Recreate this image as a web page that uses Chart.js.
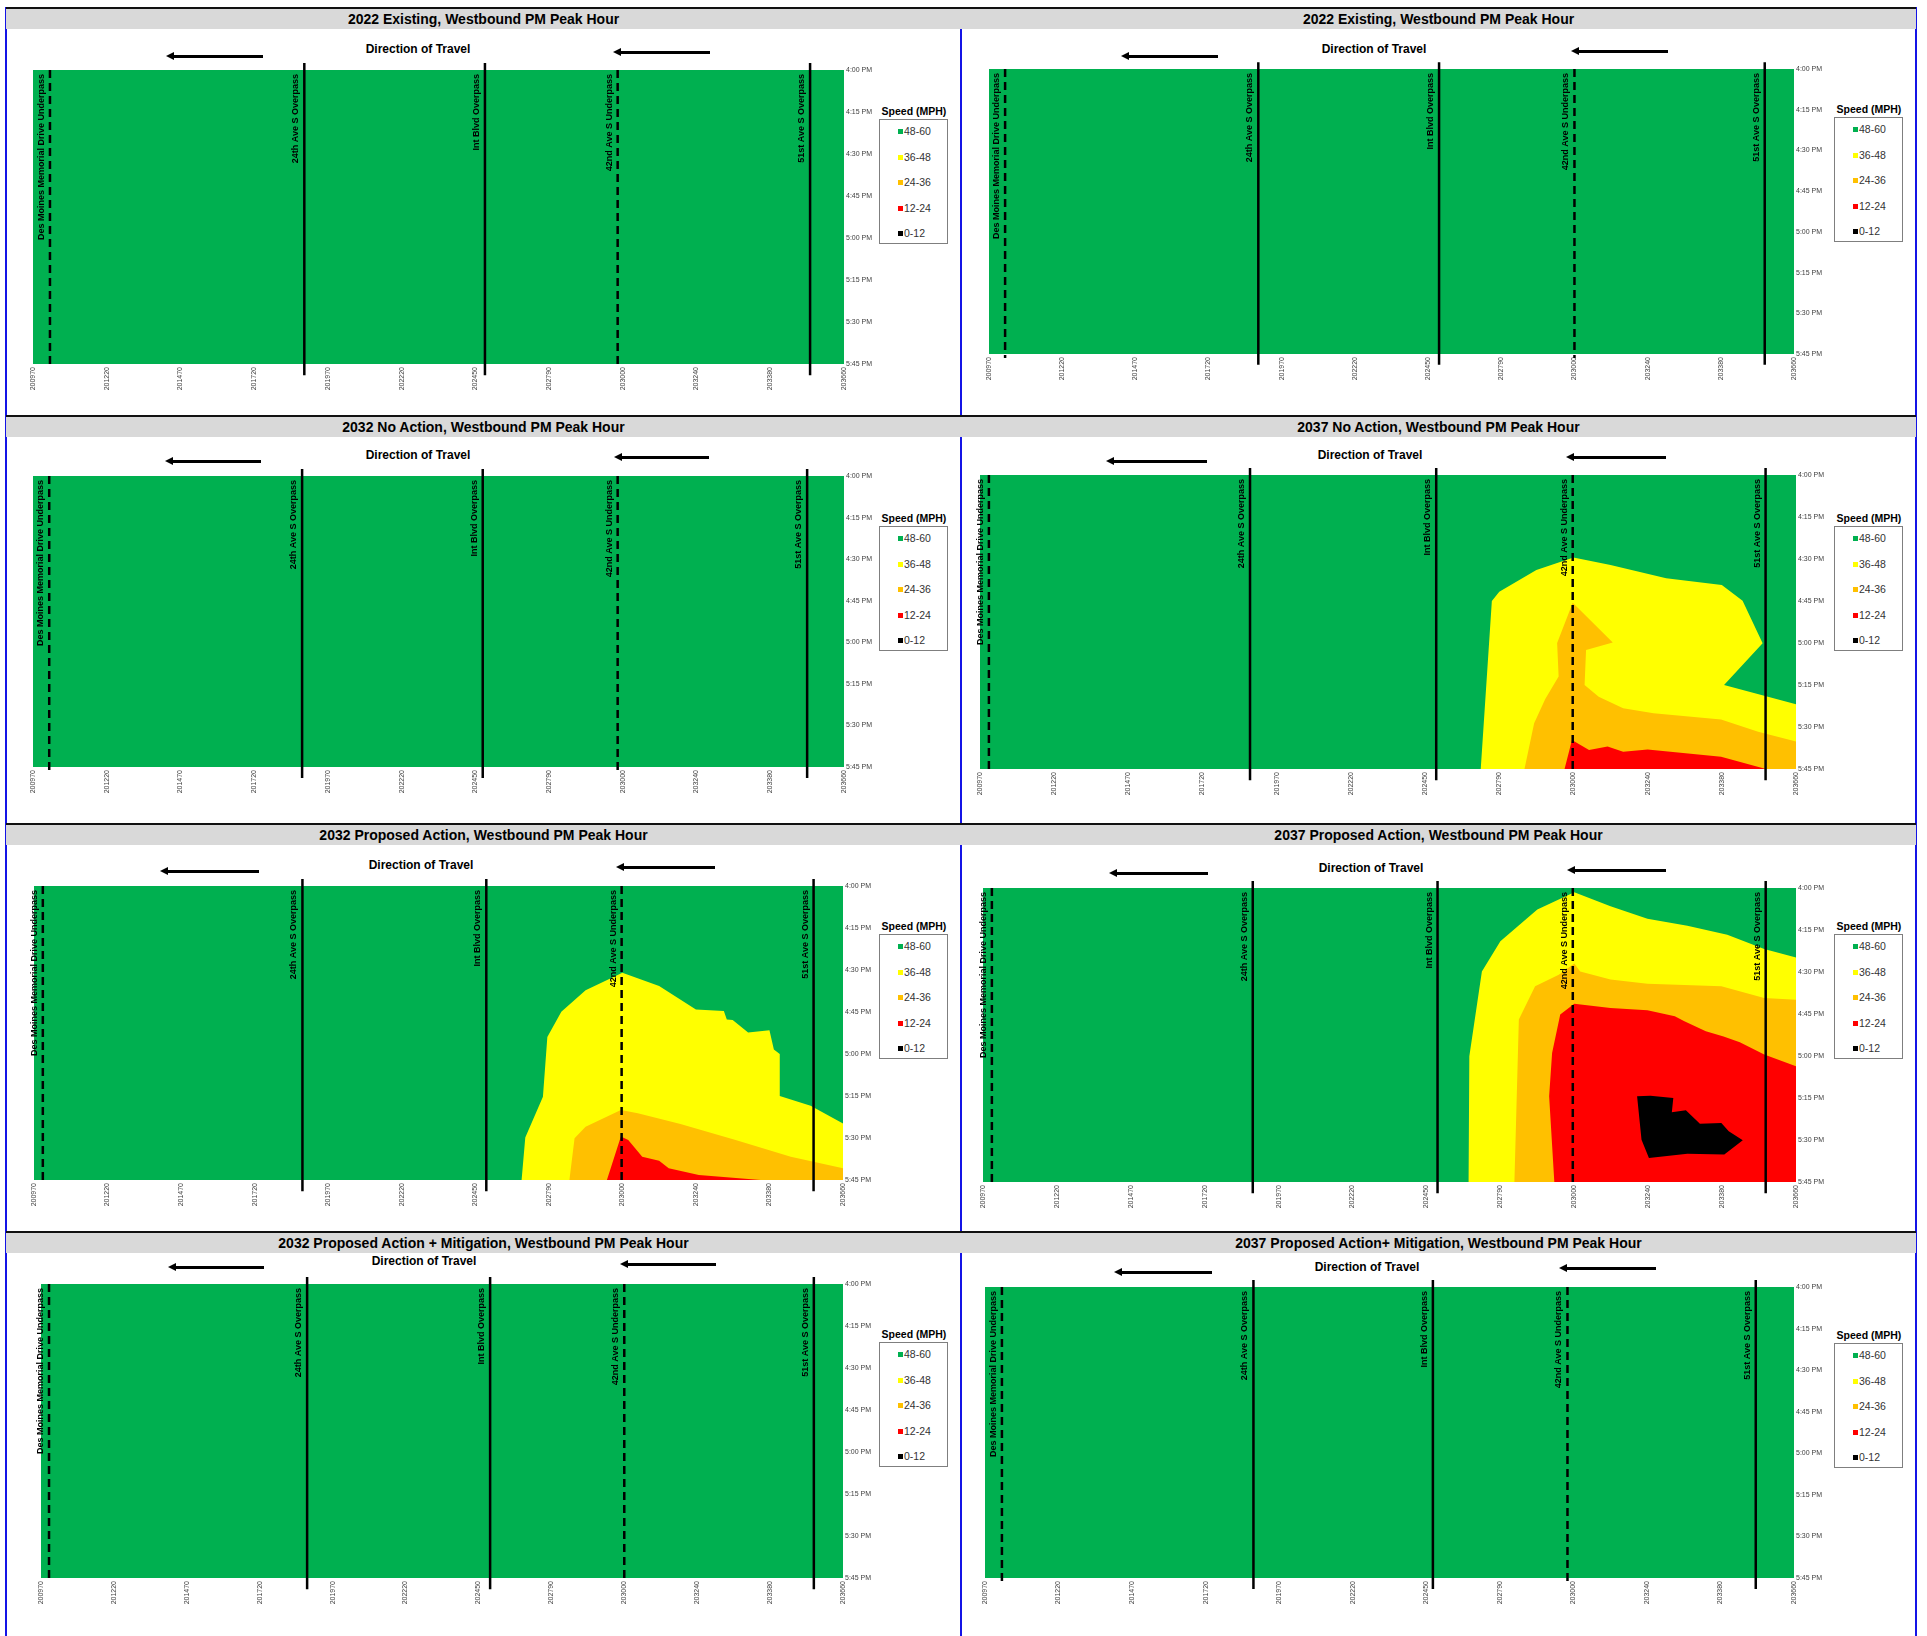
<!DOCTYPE html>
<html>
<head>
<meta charset="utf-8">
<script src="https://cdn.jsdelivr.net/npm/chart.js@4.4.1/dist/chart.umd.min.js"></script>
<style>
  body { margin: 0; width: 1927px; height: 1636px; position: relative; overflow: hidden; background: #fff;
         font-family: "Liberation Sans", Arial, sans-serif; }
  .vline { position: absolute; width: 2px; background: #1414e6; top: 7px; bottom: 0; }
  .titlebar { position: absolute; height: 20px; background: #d9d9d9; border-top: 2px solid #111;
              font-weight: bold; font-size: 14px; line-height: 21px; text-align: center; color: #000; }
  .dir { position: absolute; font-weight: bold; font-size: 12px; transform: translate(-50%, -50%); white-space: nowrap; }
  .arrow { position: absolute; height: 3px; background: #000; }
  .arrow::before { content: ''; position: absolute; left: -7px; top: -3px;
                   border-right: 8px solid #000; border-top: 4.5px solid transparent; border-bottom: 4.5px solid transparent; }
  .lgtitle { position: absolute; width: 90px; text-align: center; font-weight: bold; font-size: 10.5px; }
  .lgbox { position: absolute; width: 69px; height: 125px; border: 1px solid #7f7f7f; box-sizing: border-box; background: #fff; }
  .lgitem { position: absolute; left: 18px; font-size: 10.5px; color: #333; line-height: 11px; }
  .lgitem i { display: inline-block; width: 5px; height: 5px; margin-right: 1px; vertical-align: 1px; }
  canvas { position: absolute; }
</style>
</head>
<body>
<script>
// x axis stations (evenly spaced categories) and time ticks
const xLabels = ["200970", "201220", "201470", "201720", "201970", "202220",
                 "202450", "202790", "203000", "203240", "203380", "203660"];
const timeLabels = ["4:00 PM", "4:15 PM", "4:30 PM", "4:45 PM", "5:00 PM", "5:15 PM", "5:30 PM", "5:45 PM"];

const bands = ["48-60", "36-48", "24-36", "12-24", "0-12"];
const bandColors = ["#00b050", "#ffff00", "#ffc000", "#ff0000", "#000000"];

const titles = [
  "2022 Existing, Westbound PM Peak Hour",
  "2022 Existing, Westbound PM Peak Hour",
  "2032 No Action, Westbound PM Peak Hour",
  "2037 No Action, Westbound PM Peak Hour",
  "2032 Proposed Action, Westbound PM Peak Hour",
  "2037 Proposed Action, Westbound PM Peak Hour",
  "2032 Proposed Action + Mitigation, Westbound PM Peak Hour",
  "2037 Proposed Action+ Mitigation, Westbound PM Peak Hour"
];

const markerNames = ["Des Moines Memorial Drive Underpass", "24th Ave S Overpass", "Int Blvd Overpass",
                     "42nd Ave S Underpass", "51st Ave S Overpass"];
const markerDashed = [true, false, false, true, false];
// marker positions per panel, in station-index units
const markerPos = [
  [0.23, 3.68, 6.13, 7.93, 10.54],
  [0.22, 3.68, 6.15, 8.0, 10.6],
  [0.22, 3.65, 6.1, 7.93, 10.5],
  [0.12, 3.64, 6.15, 7.99, 10.59],
  [0.12, 3.65, 6.15, 7.99, 10.6],
  [0.12, 3.65, 6.15, 7.98, 10.59],
  [0.11, 3.65, 6.16, 8.0, 10.6],
  [0.23, 3.65, 6.09, 7.92, 10.48]
];

// contour polygons: [station index, minutes after 4:00 PM]
const fullArea = [[0, 0], [11, 0], [11, 105], [0, 105]];

const yellowNoAction2037 = [[6.75, 105], [6.9, 45], [7.0, 41.7], [7.5, 33.9], [8.0, 29.5], [8.5, 32.1], [9.25, 36.9],
  [10.0, 39.3], [10.28, 44.9], [10.55, 60.1], [10.03, 75], [11, 81.9], [11, 105]];
const orangeNoAction2037 = [[7.34, 105], [7.47, 88.7], [7.62, 80], [7.8, 72], [7.78, 60], [7.99, 45.6], [8.53, 59.8],
  [8.17, 62.5], [8.15, 75], [8.34, 79.2], [8.67, 83.3], [9.08, 85.1], [9.99, 87.3], [10.49, 91.7], [11, 95.2], [11, 105]];
const redNoAction2037 = [[7.88, 105], [7.98, 94.6], [8.21, 98.2], [8.46, 97], [8.67, 98.8], [9.0, 98], [9.99, 100.6],
  [10.57, 104.8], [10.6, 105]];

const yellowProposed2032 = [[6.63, 105], [6.68, 89.8], [6.92, 75.3], [6.98, 53.9], [7.17, 44.9], [7.5, 37.2], [8.0, 31],
  [8.5, 35.7], [9.0, 44.1], [9.38, 44.6], [9.42, 47.7], [9.5, 47.9], [9.71, 52.3], [10.0, 51.5], [10.06, 58.4],
  [10.14, 60], [10.14, 75], [10.56, 78.5], [11, 84.8], [11, 105]];
const orangeProposed2032 = [[7.28, 105], [7.35, 90.1], [7.5, 86], [7.98, 80], [8.21, 81.2], [8.79, 85], [9.54, 90.7],
  [10.29, 96.7], [11, 100.8], [11, 105]];
const redProposed2032 = [[7.79, 105], [7.98, 89.5], [8.08, 90.7], [8.27, 96.7], [8.5, 98.1], [8.63, 100.8],
  [9.04, 103.2], [9.88, 105]];

const yellowProposed2037 = [[6.57, 105], [6.58, 60.1], [6.75, 29.8], [7.0, 19], [7.5, 7.7], [8.0, 1.5], [8.49, 6.5],
  [8.99, 11], [9.53, 13.5], [10.07, 16.7], [10.57, 21.8], [11, 24.8], [11, 105]];
const orangeProposed2037 = [[7.19, 105], [7.25, 47], [7.47, 35.1], [7.79, 31], [8.0, 27], [8.08, 29.8], [8.49, 32.7],
  [8.99, 34.2], [9.99, 35.1], [10.57, 39.3], [11, 39.9], [11, 105]];
const redProposed2037 = [[7.73, 105], [7.66, 74.4], [7.7, 58.9], [7.81, 45.2], [8.0, 41.3], [8.49, 42.9], [8.99, 43.7],
  [9.36, 45.8], [9.49, 47.6], [9.78, 51.2], [10.02, 53], [10.24, 55.1], [10.57, 59.5], [11, 63.7], [11, 105]];
const blackProposed2037 = [[8.85, 74.4], [9.03, 74.2], [9.34, 75], [9.32, 80.1], [9.51, 79.4], [9.70, 84.2],
  [9.99, 83.9], [10.09, 86.9], [10.28, 90.1], [10.03, 95.2], [9.53, 94.9], [9.01, 96.4], [8.91, 89.9]];

// [48-60, 36-48, 24-36, 12-24, 0-12] per panel
const panelBands = [
  [fullArea, [], [], [], []],
  [fullArea, [], [], [], []],
  [fullArea, [], [], [], []],
  [fullArea, yellowNoAction2037, orangeNoAction2037, redNoAction2037, []],
  [fullArea, yellowProposed2032, orangeProposed2032, redProposed2032, []],
  [fullArea, yellowProposed2037, orangeProposed2037, redProposed2037, blackProposed2037],
  [fullArea, [], [], [], []],
  [fullArea, [], [], [], []]
];

// page layout (pixels)
const rowTops = [7, 415, 823, 1231];
const colX = [[6, 961], [961, 1916]];
const layout = [
  {plot: [33, 70, 844, 364],     dir: [418, 49],    arrows: [[173, 263, 56], [620, 710, 52]],     lg: 119},
  {plot: [989, 69, 1794, 354],   dir: [1374, 49],   arrows: [[1128, 1218, 56], [1578, 1668, 51]], lg: 117},
  {plot: [33, 476, 844, 767],    dir: [418, 455],   arrows: [[172, 261, 461], [621, 709, 457]],   lg: 526},
  {plot: [980, 475, 1796, 769],  dir: [1370, 455],  arrows: [[1113, 1207, 461], [1573, 1666, 457]], lg: 526},
  {plot: [34, 886, 843, 1180],   dir: [421, 865],   arrows: [[167, 259, 871], [623, 715, 867]],   lg: 934},
  {plot: [983, 888, 1796, 1182], dir: [1371, 868],  arrows: [[1116, 1208, 873], [1574, 1666, 870]], lg: 934},
  {plot: [41, 1284, 843, 1578],  dir: [424, 1261],  arrows: [[175, 264, 1267], [627, 716, 1264]], lg: 1342},
  {plot: [985, 1287, 1794, 1578], dir: [1367, 1267], arrows: [[1121, 1212, 1272], [1566, 1656, 1268]], lg: 1343}
];

Chart.defaults.font.family = '"Liberation Sans", Arial, sans-serif';
Chart.defaults.color = '#404040';

function el(cls, style, text) {
  const d = document.createElement('div');
  d.className = cls;
  Object.assign(d.style, style);
  if (text !== undefined) d.textContent = text;
  document.body.appendChild(d);
  return d;
}

// panel frame lines
[6, 961, 1916].forEach(x => el('vline', {left: (x - 1) + 'px'}));

const markerLabels = {
  id: 'markerLabels',
  afterDatasetsDraw(chart, args, opts) {
    const {ctx, chartArea, scales} = chart;
    ctx.save();
    ctx.font = 'bold 9px "Liberation Sans", Arial, sans-serif';
    ctx.fillStyle = '#000';
    ctx.textAlign = 'right';
    ctx.textBaseline = 'alphabetic';
    opts.positions.forEach((p, i) => {
      const x = scales.x.getPixelForValue(p) - 6;
      ctx.save();
      ctx.translate(x, chartArea.top + 4);
      ctx.rotate(-Math.PI / 2);
      ctx.fillText(markerNames[i], 0, 0);
      ctx.restore();
    });
    ctx.restore();
  }
};

titles.forEach((title, i) => {
  const col = i % 2, row = Math.floor(i / 2);
  const lay = layout[i];
  const [cx0, cx1] = colX[col];

  el('titlebar', {left: cx0 + 'px', top: rowTops[row] + 'px', width: (cx1 - cx0) + 'px'}, title);
  el('dir', {left: lay.dir[0] + 'px', top: lay.dir[1] + 'px'}, 'Direction of Travel');
  lay.arrows.forEach(a => el('arrow', {left: a[0] + 'px', top: (a[2] - 1) + 'px', width: (a[1] - a[0]) + 'px'}));

  // legend
  const lgLeft = col === 0 ? 879 : 1834;
  el('lgtitle', {left: (lgLeft - 10) + 'px', top: (lay.lg - 14) + 'px'}, 'Speed (MPH)');
  const box = el('lgbox', {left: lgLeft + 'px', top: lay.lg + 'px'});
  bands.forEach((b, k) => {
    const it = document.createElement('div');
    it.className = 'lgitem';
    it.style.top = (6 + k * 25.5) + 'px';
    it.innerHTML = '<i style="background:' + bandColors[k] + '"></i>' + b;
    box.appendChild(it);
  });

  // chart canvas: plot area is pinned to the measured rectangle
  const [L, T, R, B] = lay.plot;
  const padL = 20, padT = 14, axisW = 40, axisH = 36;
  const cv = document.createElement('canvas');
  cv.width = R - L + padL + axisW;
  cv.height = B - T + padT + axisH;
  cv.style.left = (L - padL) + 'px';
  cv.style.top = (T - padT) + 'px';
  document.body.appendChild(cv);

  const datasets = [];
  panelBands[i].forEach((poly, k) => {
    datasets.push({
      label: bands[k],
      data: poly.map(p => ({x: p[0], y: p[1]})),
      backgroundColor: bandColors[k],
      borderColor: bandColors[k],
      borderWidth: 0,
      pointRadius: 0,
      fill: 'shape',
      order: 10 - k
    });
  });
  markerPos[i].forEach((p, k) => {
    const dashed = markerDashed[k];
    datasets.push({
      label: markerNames[k],
      data: dashed ? [{x: p, y: 0}, {x: p, y: 106.5}] : [{x: p, y: -2.5}, {x: p, y: 109}],
      borderColor: '#000',
      borderWidth: 2.5,
      borderDash: dashed ? [8, 5] : [],
      pointRadius: 0,
      fill: false,
      clip: false,
      order: 0
    });
  });

  new Chart(cv, {
    type: 'line',
    data: {datasets},
    options: {
      responsive: false,
      animation: false,
      layout: {padding: {left: padL, top: padT, right: 0, bottom: 0}},
      plugins: {legend: {display: false}, tooltip: {enabled: false}, markerLabels: {positions: markerPos[i]}},
      scales: {
        x: {
          type: 'linear', min: 0, max: 11,
          grid: {display: false, drawTicks: false}, border: {display: false},
          afterFit: s => { s.height = axisH; },
          ticks: {
            stepSize: 1, maxTicksLimit: 20, autoSkip: false, minRotation: 90, maxRotation: 90, padding: 3,
            font: {size: 7}, color: '#404040',
            callback: v => xLabels[v]
          }
        },
        y: {
          type: 'linear', min: 0, max: 105, reverse: true, position: 'right',
          grid: {display: false, drawTicks: false}, border: {display: false},
          afterFit: s => { s.width = axisW; },
          ticks: {
            stepSize: 15, padding: 2, font: {size: 7}, color: '#404040',
            callback: v => timeLabels[v / 15]
          }
        }
      }
    },
    plugins: [markerLabels]
  });
});
</script>
</body>
</html>
